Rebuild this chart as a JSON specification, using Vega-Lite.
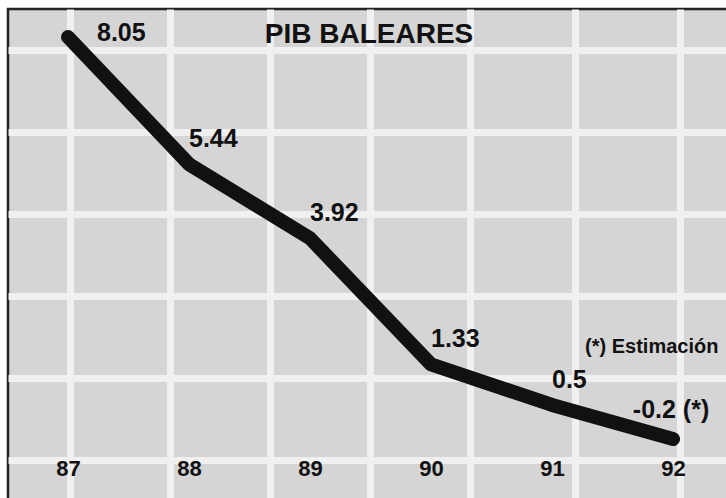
{
  "$schema": "https://vega.github.io/schema/vega-lite/v6.json",
  "width": 722,
  "height": 492,
  "autosize": "none",
  "padding": {"left": 8, "top": 9, "right": 0, "bottom": 0},
  "background": "white",
  "title": {"text": "PIB BALEARES", "fontSize": 28, "font": "Liberation Sans", "fontWeight": "bold", "color": "#111111", "anchor": "middle", "baseline": "alphabetic", "offset": -62},
  "config": {
    "view": {"fill": "#d5d5d5", "stroke": "#222222", "strokeWidth": 2.5},
    "axis": {"labelFont": "Liberation Sans"}
  },
  "data": {"values": [
    {"year": 87, "pib": 8.05, "label": "8.05"},
    {"year": 88, "pib": 5.44, "label": "5.44"},
    {"year": 89, "pib": 3.92, "label": "3.92"},
    {"year": 90, "pib": 1.33, "label": "1.33"},
    {"year": 91, "pib": 0.5, "label": "0.5"},
    {"year": 92, "pib": -0.2, "label": "-0.2 (*)"}
  ]},
  "layer": [
    {
      "mark": {"type": "point", "opacity": 0},
      "encoding": {
        "x": {"datum": 0, "type": "quantitative", "scale": {"domain": [-0.62, 6.6], "nice": false, "zero": false},
              "axis": {"orient": "top", "values": [0, 1, 2, 3, 4, 5.05, 6.1], "labels": false, "ticks": false, "domain": false, "grid": true, "gridColor": "#f0f0f0", "gridWidth": 7, "gridOpacity": 1, "title": null}},
        "y": {"datum": 0, "type": "quantitative", "scale": {"domain": [-0.5, 5.5], "reverse": true, "nice": false, "zero": false},
              "axis": {"orient": "left", "values": [0, 1, 2, 3, 4, 5], "labels": false, "ticks": false, "domain": false, "grid": true, "gridColor": "#f0f0f0", "gridWidth": 7, "gridOpacity": 1, "title": null}}
      }
    },
    {
      "layer": [
        {
          "mark": {"type": "line", "color": "#111111", "strokeWidth": 14, "strokeCap": "round", "strokeJoin": "round"},
          "encoding": {}
        },
        {
          "transform": [{"filter": "datum.year == 87"}],
          "mark": {"type": "text", "align": "left", "baseline": "middle", "dx": 29, "dy": -4, "font": "Liberation Sans", "fontWeight": "bold", "fontSize": 25, "color": "#111111"},
          "encoding": {"text": {"field": "label"}}
        },
        {
          "transform": [{"filter": "datum.year >= 88 && datum.year <= 91"}],
          "mark": {"type": "text", "align": "left", "baseline": "middle", "dx": 0, "dy": -25, "font": "Liberation Sans", "fontWeight": "bold", "fontSize": 25, "color": "#111111"},
          "encoding": {"text": {"field": "label"}}
        },
        {
          "transform": [{"filter": "datum.year == 92"}],
          "mark": {"type": "text", "align": "center", "baseline": "middle", "dx": -2, "dy": -29, "font": "Liberation Sans", "fontWeight": "bold", "fontSize": 25, "color": "#111111"},
          "encoding": {"text": {"field": "label"}}
        },
        {
          "transform": [{"filter": "datum.year == 92"}],
          "mark": {"type": "text", "align": "left", "baseline": "middle", "font": "Liberation Sans", "fontWeight": "bold", "fontSize": 20, "color": "#111111"},
          "encoding": {
            "x": {"datum": 91.273, "type": "quantitative"},
            "y": {"datum": 1.689, "type": "quantitative"},
            "text": {"value": "(*) Estimación"}
          }
        }
      ],
      "encoding": {
        "x": {"field": "year", "type": "quantitative", "scale": {"domain": [86.504, 92.471], "nice": false, "zero": false},
              "axis": {"orient": "bottom", "values": [87, 88, 89, 90, 91, 92], "format": "d", "offset": -33, "ticks": false, "domain": false, "grid": false, "labelPadding": 0, "labelBaseline": "middle", "labelFontSize": 22, "labelFontWeight": "bold", "labelColor": "#111111", "title": null}},
        "y": {"field": "pib", "type": "quantitative", "scale": {"domain": [-1.472, 8.625], "nice": false, "zero": false}, "axis": null}
      }
    }
  ],
  "resolve": {"scale": {"x": "independent", "y": "independent"}, "axis": {"x": "independent", "y": "independent"}}
}
